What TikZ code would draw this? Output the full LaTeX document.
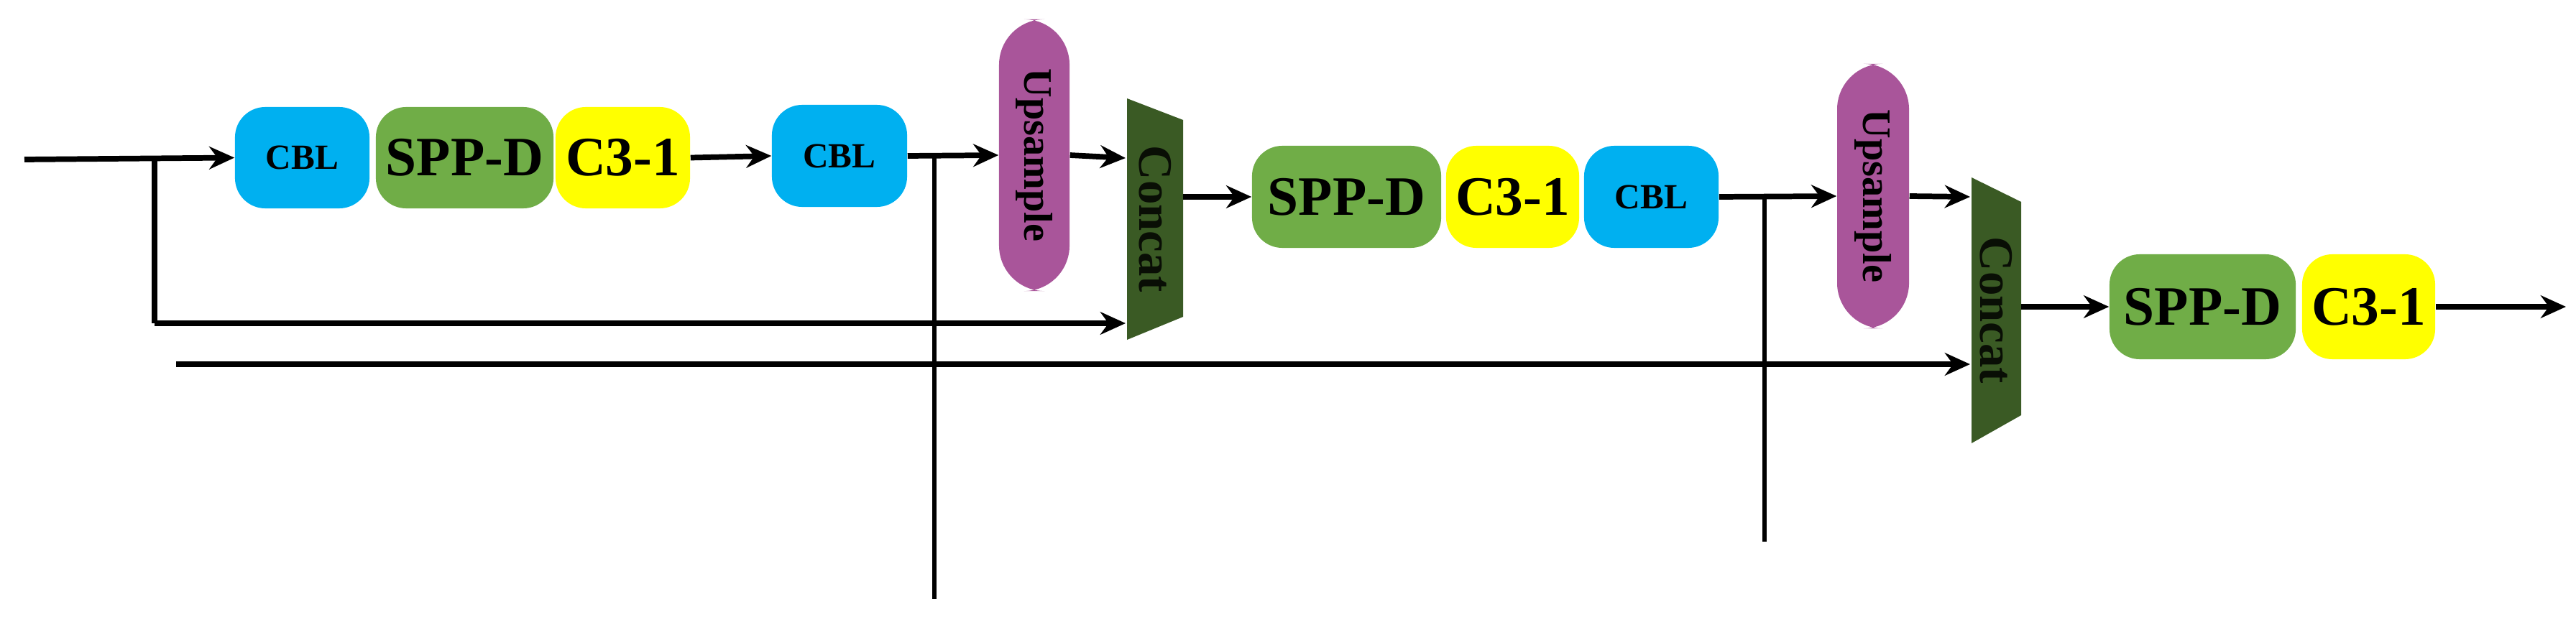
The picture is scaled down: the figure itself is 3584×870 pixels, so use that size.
\documentclass[tikz,border=0pt]{standalone}
\usepackage{fontspec}
\setmainfont{Liberation Serif}
\usetikzlibrary{arrows.meta}
\definecolor{cblc}{HTML}{00B0F0}
\definecolor{sppc}{HTML}{70AD47}
\definecolor{c3c}{HTML}{FFFF00}
\definecolor{upc}{HTML}{A9559A}
\definecolor{catc}{HTML}{3A5A24}
\begin{document}
\begin{tikzpicture}[x=0.01cm,y=-0.01cm,
  box/.style={rounded corners=12pt,inner sep=0pt,font=\bfseries},
  ar/.style={line width=2.2pt,-{Stealth[length=10pt,width=9pt]}},
  ln/.style={line width=2.2pt},
  thin/.style={line width=1.6pt}]
\useasboundingbox (0,0) rectangle (3584,870);
\tikzset{bx/.code args={#1/#2/#3/#4}{}}
% boxes: fill, x1,x2,y1,y2
\newcommand{\blk}[7]{\node[box,fill=#2,minimum width={(#4-#3)*0.01cm},minimum height={(#6-#5)*0.01cm},font=#7] (#1) at ({(#3+#4)/2},{(#5+#6)/2}) {#1x};}
\node[box,fill=cblc,minimum width=1.87cm,minimum height=1.41cm,font=\fontsize{14}{14}\bfseries] (cbl1) at (420.5,219.5) {CBL};
\node[box,fill=sppc,minimum width=2.47cm,minimum height=1.41cm,font=\fontsize{22}{22}\bfseries] (spp1) at (646.5,219.5) {SPP-D};
\node[box,fill=c3c,minimum width=1.87cm,minimum height=1.41cm,font=\fontsize{22}{22}\bfseries] (c31) at (866.5,219.5) {C3-1};
\node[box,fill=cblc,minimum width=1.88cm,minimum height=1.42cm,font=\fontsize{14}{14}\bfseries] (cbl2) at (1168,217) {CBL};
\node[box,fill=upc,rounded corners=18pt,minimum width=0.98cm,minimum height=3.78cm] (up1) at (1439,216) {};
\node[rotate=-90,font=\fontsize{16}{16}\bfseries] at (up1) {Upsample};
\path[fill=catc] (1568,137) -- (1646,167) -- (1646,441) -- (1568,473) -- cycle;
\node[rotate=-90,font=\fontsize{19}{19}\bfseries,text=black!85!catc] (cat1) at (1607,305) {Concat};
\node[box,fill=sppc,minimum width=2.63cm,minimum height=1.42cm,font=\fontsize{22}{22}\bfseries] (spp2) at (1873.5,274) {SPP-D};
\node[box,fill=c3c,minimum width=1.85cm,minimum height=1.42cm,font=\fontsize{22}{22}\bfseries] (c32) at (2104.5,274) {C3-1};
\node[box,fill=cblc,minimum width=1.87cm,minimum height=1.42cm,font=\fontsize{14}{14}\bfseries] (cbl3) at (2297.5,274) {CBL};
\node[box,fill=upc,rounded corners=18pt,minimum width=1.0cm,minimum height=3.68cm] (up2) at (2606,273) {};
\node[rotate=-90,font=\fontsize{16}{16}\bfseries] at (up2) {Upsample};
\path[fill=catc] (2743,247) -- (2812,281) -- (2812,578) -- (2743,617) -- cycle;
\node[rotate=-90,font=\fontsize{19}{19}\bfseries,text=black!85!catc] (cat2) at (2777,432) {Concat};
\node[box,fill=sppc,minimum width=2.59cm,minimum height=1.46cm,font=\fontsize{22}{22}\bfseries] (spp3) at (3064.5,427) {SPP-D};
\node[box,fill=c3c,minimum width=1.85cm,minimum height=1.46cm,font=\fontsize{22}{22}\bfseries] (c33) at (3295.5,427) {C3-1};
% connectors
\coordinate (in) at (34,222);
\coordinate (b1) at (215,222);
\coordinate (b1d) at (215,450);
\draw[ar] (in) -- (cbl1.west);
\draw[ln] (b1) -- (b1d);
\draw[ar] (b1d) -- (1566,450);
\draw[ar] (c31.east) -- (cbl2.west);
\draw[ar] (cbl2.east) -- (up1.west);
\coordinate (b2) at (1300,220);
\coordinate (b2d) at (1300,834);
\draw[thin] (b2) -- (b2d);
\draw[ar] (up1.east) -- (1566,220);
\draw[ar] (1646,274) -- (spp2.west);
\draw[ar] (cbl3.east) -- (up2.west);
\coordinate (b3) at (2455,274);
\coordinate (b3d) at (2455,754);
\draw[thin] (b3) -- (b3d);
\draw[ar] (up2.east) -- (2741,274);
\coordinate (l2) at (245,507);
\draw[ar] (l2) -- (2741,507);
\draw[ar] (2812,427) -- (spp3.west);
\coordinate (out) at (3570,427);
\draw[ar] (c33.east) -- (out);
\end{tikzpicture}
\end{document}
